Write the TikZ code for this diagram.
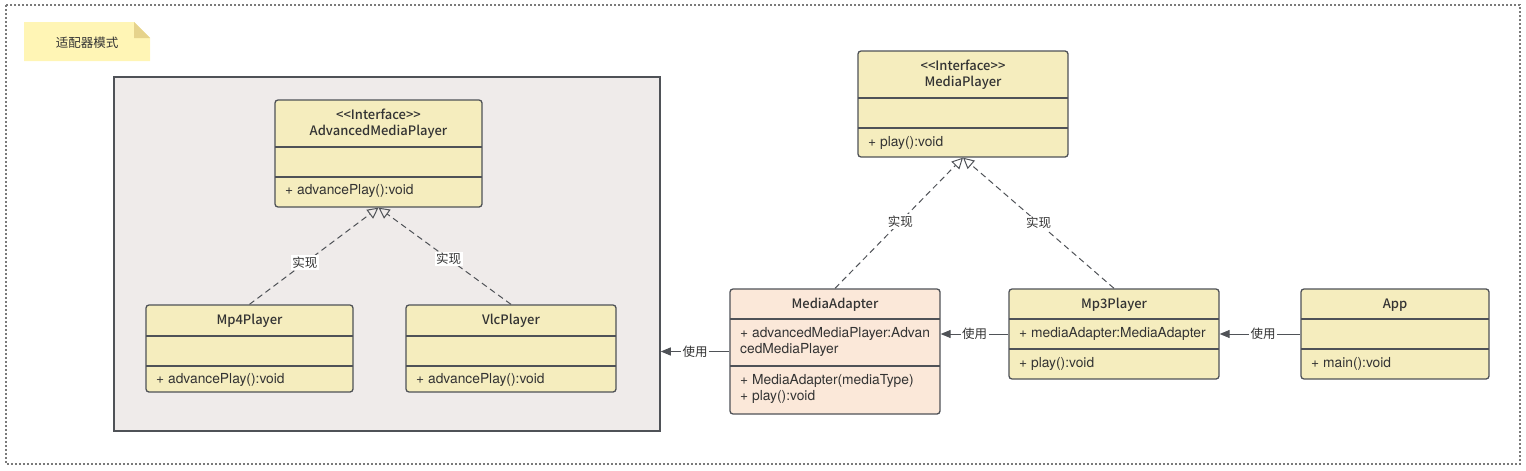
\documentclass[tikz,border=0pt]{standalone}
\usepackage{fontspec}
\setmainfont{TeX Gyre Heros}
\newfontfamily\cjk{Noto Sans CJK SC}
\newfontfamily\medf{Noto Sans CJK SC Medium}
\usetikzlibrary{arrows.meta,calc}
\definecolor{clsfill}{HTML}{F5EDBE}
\definecolor{adfill}{HTML}{FBE8D9}
\definecolor{grayfill}{HTML}{EFEBEA}
\definecolor{linec}{HTML}{4F5257}
\definecolor{txt}{HTML}{333333}
\definecolor{notefill}{HTML}{FFF5B5}
\definecolor{notefold}{HTML}{E6D38C}
\definecolor{framec}{HTML}{7A7A7A}
\tikzset{
 cls/.style={draw=linec, line width=1.3pt, rounded corners=3pt, fill=clsfill, inner sep=0pt},
 div/.style={draw=linec, line width=1.3pt},
 nm/.style={font=\medf\fontsize{13}{15.5}\selectfont, text=txt, align=center, inner sep=0pt},
 mem/.style={font=\fontsize{13.8}{16}\selectfont, text=txt, anchor=west, align=left, inner sep=0pt},
 real/.style={draw=linec, line width=1pt, dash pattern=on 6pt off 4pt, -{Triangle[open,length=11pt,width=11pt]}},
 use/.style={draw=linec, line width=1pt, -{Triangle[length=10pt,width=8pt]}},
 lbl/.style={fill=white, font=\cjk\fontsize{12.5}{14}\selectfont, text=txt, inner sep=1.5pt},
}
\begin{document}
\begin{tikzpicture}[x=1pt,y=-1pt]
\useasboundingbox (0,0) rectangle (1526,471);
% outer frame
\draw[framec, line width=1.3pt, dash pattern=on 2pt off 2pt] (6,5) rectangle (1520,464);
% note
\fill[notefill] (24,22) -- (134,22) -- (150,38) -- (150,61) -- (24,61) -- cycle;
\fill[notefold] (134,22) -- (150,38) -- (134,38) -- cycle;
\node[font=\cjk\fontsize{12.5}{15}\selectfont, text=txt, inner sep=0pt] (notetxt) at (87,43) {适配器模式};
% group box
\node[draw=linec, line width=1.5pt, fill=grayfill, minimum width=546pt, minimum height=354pt, inner sep=0pt] (grp) at (387,254) {};

% AdvancedMediaPlayer
\node[cls, minimum width=207pt, minimum height=107pt] (amp) at (378.5,153.5) {};
\draw[div] (275,147) -- (482,147);
\draw[div] (275,177) -- (482,177);
\node[nm] (ampn) at (378.5,123.5) {<{}<Interface>{}>\\AdvancedMediaPlayer};
\node[mem] (ampm) at (285,191) {+ advancePlay():void};

% Mp4Player
\node[cls, minimum width=207pt, minimum height=87pt] (mp4) at (249.5,348.5) {};
\draw[div] (146,336) -- (353,336);
\draw[div] (146,366) -- (353,366);
\node[nm] (mp4n) at (249.5,321) {Mp4Player};
\node[mem] (mp4m) at (156,380) {+ advancePlay():void};

% VlcPlayer
\node[cls, minimum width=210pt, minimum height=87pt] (vlc) at (511,348.5) {};
\draw[div] (406,336) -- (616,336);
\draw[div] (406,366) -- (616,366);
\node[nm] (vlcn) at (511,321) {VlcPlayer};
\node[mem] (vlcm) at (416,380) {+ advancePlay():void};

% MediaPlayer
\node[cls, minimum width=210pt, minimum height=106pt] (mp) at (963,104) {};
\draw[div] (858,98) -- (1068,98);
\draw[div] (858,128) -- (1068,128);
\node[nm] (mpn) at (963,74.5) {<{}<Interface>{}>\\MediaPlayer};
\node[mem] (mpm) at (868,143) {+ play():void};

% MediaAdapter
\node[cls, fill=adfill, minimum width=210pt, minimum height=125pt] (ma) at (835,351.5) {};
\draw[div] (730,319) -- (940,319);
\draw[div] (730,366) -- (940,366);
\node[nm] (man) at (835,305) {MediaAdapter};
\node[mem] (maa) at (740,342) {+ advancedMediaPlayer:Advan\\cedMediaPlayer};
\node[mem] (mam) at (740,389) {+ MediaAdapter(mediaType)\\+ play():void};

% Mp3Player
\node[cls, minimum width=210pt, minimum height=90pt] (mp3) at (1114,334) {};
\draw[div] (1009,319) -- (1219,319);
\draw[div] (1009,349) -- (1219,349);
\node[nm] (mp3n) at (1114,305) {Mp3Player};
\node[mem] (mp3a) at (1019,334) {+ mediaAdapter:MediaAdapter};
\node[mem] (mp3m) at (1019,364) {+ play():void};

% App
\node[cls, minimum width=188pt, minimum height=90pt] (app) at (1395,334) {};
\draw[div] (1301,319) -- (1489,319);
\draw[div] (1301,349) -- (1489,349);
\node[nm] (appn) at (1395,305) {App};
\node[mem] (appm) at (1311,364) {+ main():void};

% realization
\draw[real] (mp4.north) -- node[lbl, pos=0.43] {实现} (amp.south);
\draw[real] (vlc.north) -- node[lbl, pos=0.47] {实现} (amp.south);
\draw[real] (ma.north) -- node[lbl, pos=0.51] {实现} (mp.south);
\draw[real] (mp3.north) -- node[lbl, pos=0.5] {实现} (mp.south);

% usage
\draw[use] (ma.west) -- node[lbl, pos=0.5] {使用} (ma.west -| grp.east);
\draw[use] (mp3.west) -- node[lbl, pos=0.5] {使用} (mp3.west -| ma.east);
\draw[use] (app.west) -- node[lbl, pos=0.46] {使用} (app.west -| mp3.east);
\end{tikzpicture}
\end{document}
